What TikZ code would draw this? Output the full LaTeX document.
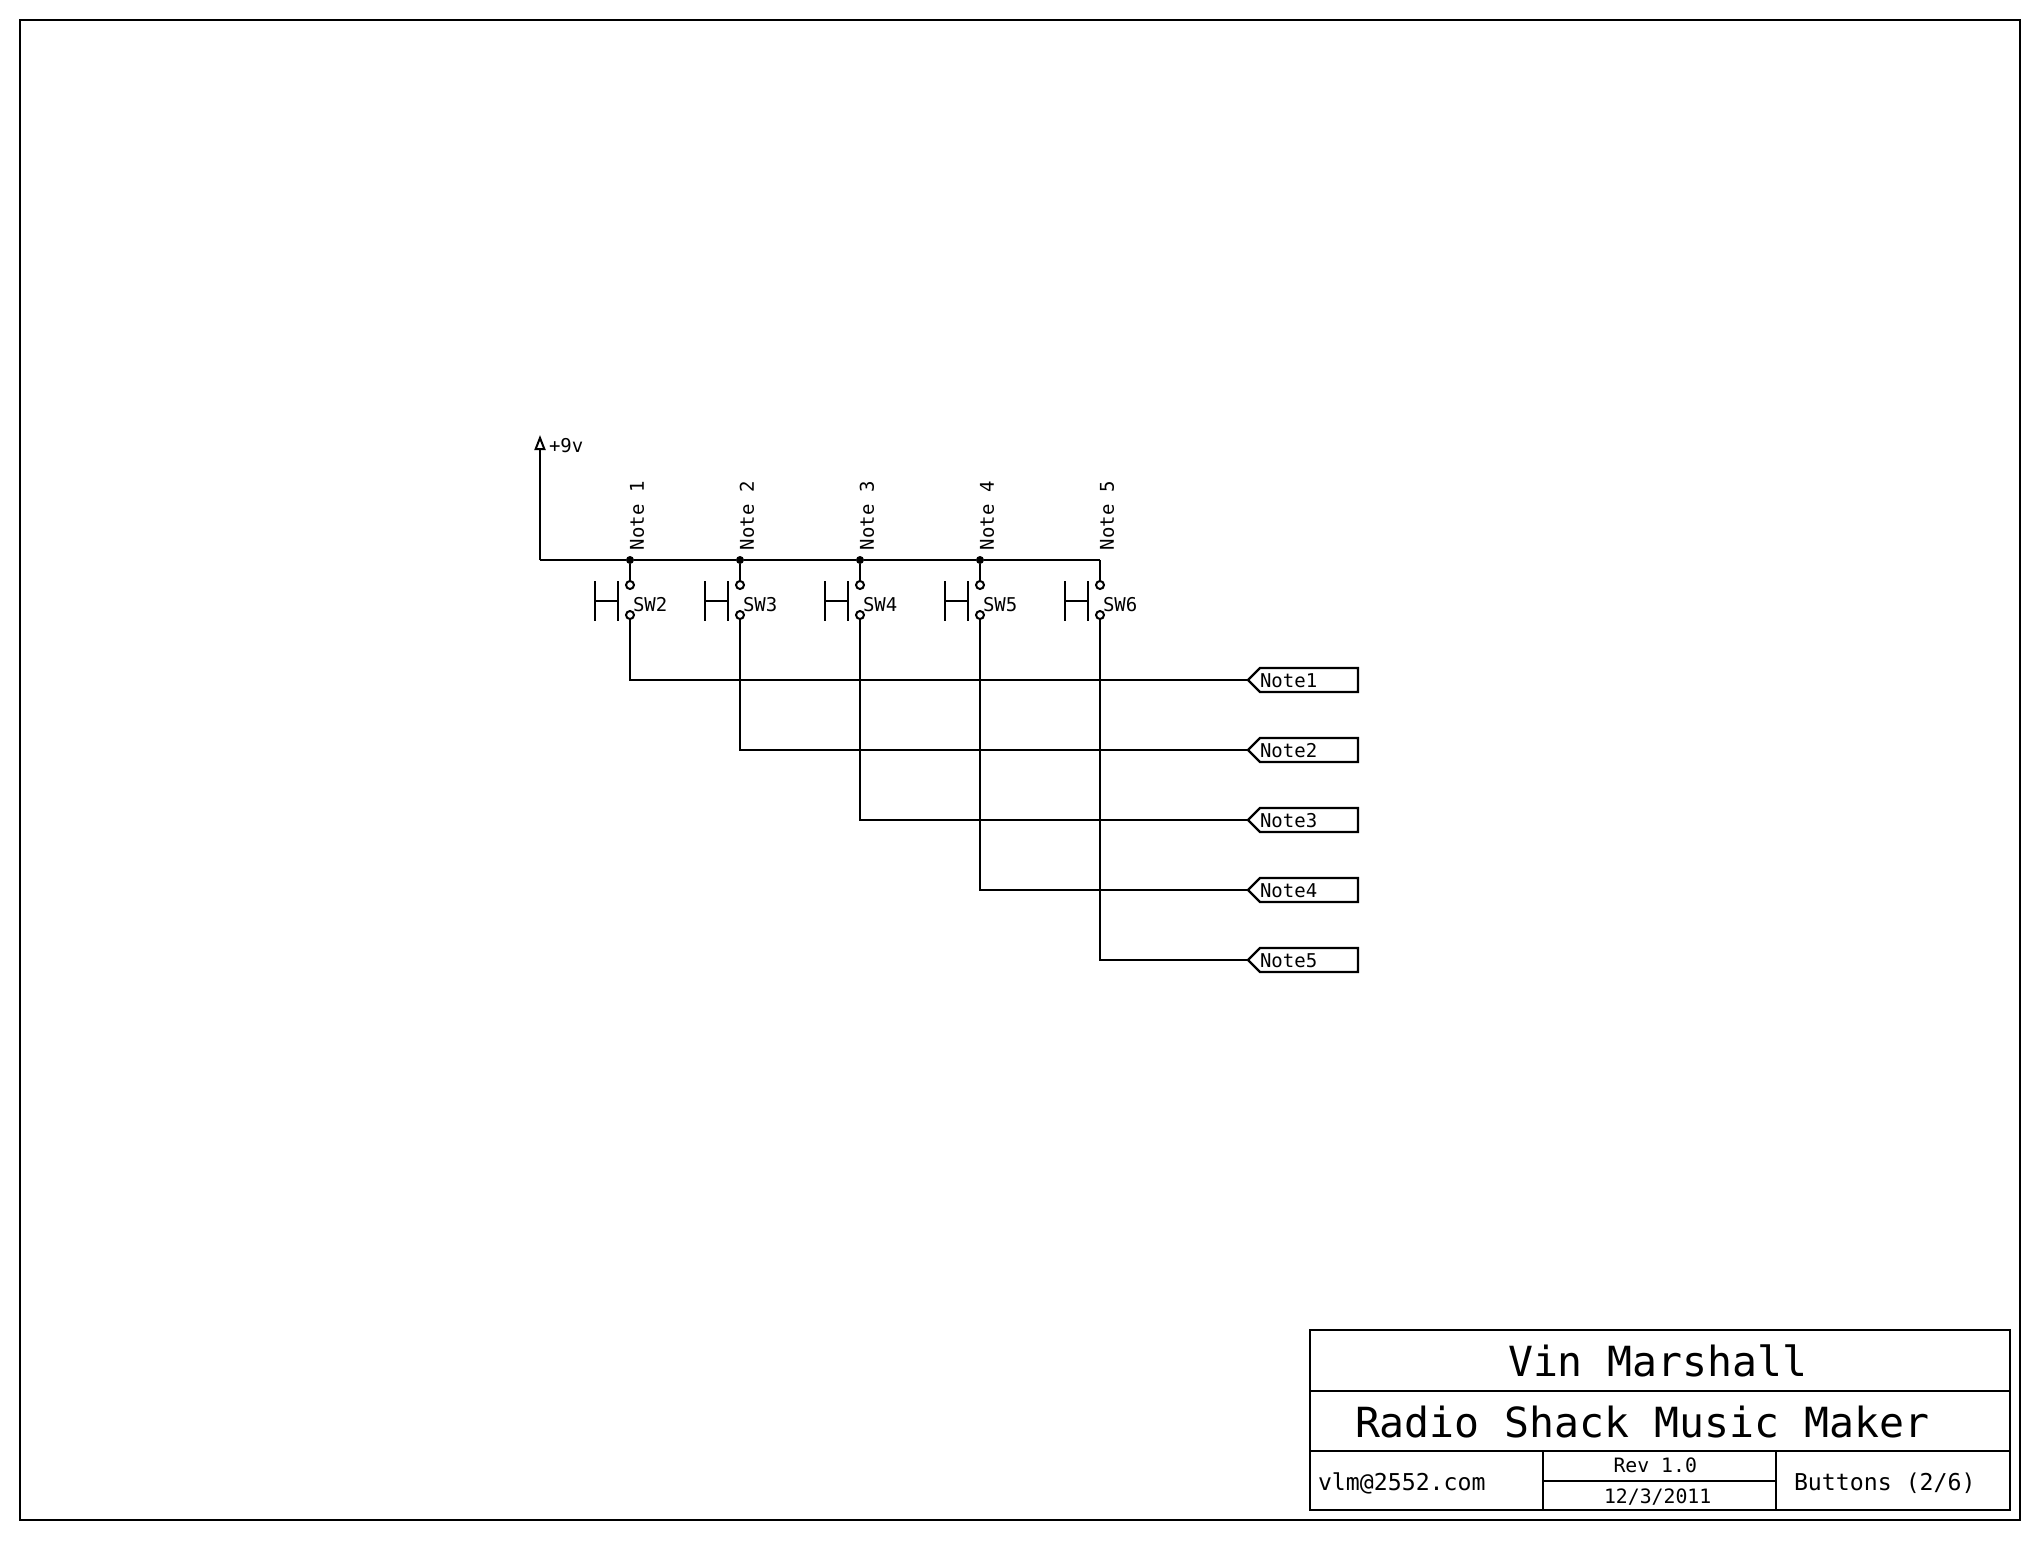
\documentclass[tikz,border=0pt]{standalone}
\usepackage{fontspec}
\setmainfont{DejaVu Sans Mono}
\usetikzlibrary{arrows.meta, shapes.symbols, positioning}

\begin{document}
\begin{tikzpicture}[
  x=1pt, y=-1pt,
  every node/.style={inner sep=0pt, outer sep=0pt},
  wire/.style={line width=2.5pt},
  sheet/.style={line width=2pt},
  junction/.style={circle, fill=black, minimum size=8pt},
  contact/.style={circle, draw, line width=2pt, fill=white, minimum size=8pt},
  netname/.style={font=\fontsize{19}{20}\selectfont},
  swname/.style={netname, anchor=west},
  tag/.style={signal, signal to=west, signal pointer angle=90, draw, line width=2.2pt,
              minimum width=109pt, minimum height=24pt, text width=98pt,
              text height=15pt, text depth=0pt, font=\fontsize{19}{20}\selectfont},
  cell/.style={rectangle, draw, line width=2pt, anchor=north west, text depth=0pt,
               execute at begin node={\spaceskip=0pt\relax}},
  bigcell/.style={cell, minimum width=700pt, minimum height=60.5pt,
                  font=\fontsize{41.5}{44}\selectfont},
  revcell/.style={cell, minimum width=233pt, minimum height=29.5pt,
                  font=\fontsize{19.8}{22}\selectfont},
  sidecell/.style={cell, minimum height=59pt, text height=19pt,
                   font=\fontsize{23.2}{26}\selectfont},
  pushbar/.pic={
    \draw[wire] (-11.5,-20) -- (-11.5,20) (11.5,-20) -- (11.5,20) (-11.5,0) -- (11.5,0);
  },
]
\useasboundingbox (0,0) rectangle (2040,1540);
\draw[sheet] (20,20) rectangle (2020,1520);

% supply rail
\coordinate (vcc) at (540,435);
\coordinate (railstart) at (540,560);
\node[junction] (j1) at (630,560) {};
\node[junction] (j2) at (740,560) {};
\node[junction] (j3) at (860,560) {};
\node[junction] (j4) at (980,560) {};
\coordinate (j5) at (1100,560);
\node[netname, anchor=west] (vcclabel) at (549,446) {+9v};
\draw[wire, -{Triangle[open, length=15pt, width=11pt, line width=2pt]}] (railstart) -- (vcc);
\draw[wire] (railstart) -- (j1) -- (j2) -- (j3) -- (j4) -- (j5);

% labels above the rail
\node[netname, rotate=90, anchor=west] (lab1) at (637,550) {Note 1};
\node[netname, rotate=90, anchor=west] (lab2) at (747,550) {Note 2};
\node[netname, rotate=90, anchor=west] (lab3) at (867,550) {Note 3};
\node[netname, rotate=90, anchor=west] (lab4) at (987,550) {Note 4};
\node[netname, rotate=90, anchor=west] (lab5) at (1107,550) {Note 5};

% switches
\node[contact] (t1) at (630,585) {};
\node[contact] (t2) at (740,585) {};
\node[contact] (t3) at (860,585) {};
\node[contact] (t4) at (980,585) {};
\node[contact] (t5) at (1100,585) {};
\node[contact, below=22pt of t1] (b1) {};
\node[contact, below=22pt of t2] (b2) {};
\node[contact, below=22pt of t3] (b3) {};
\node[contact, below=22pt of t4] (b4) {};
\node[contact, below=22pt of t5] (b5) {};
\pic at (606.5,601) {pushbar};
\pic at (716.5,601) {pushbar};
\pic at (836.5,601) {pushbar};
\pic at (956.5,601) {pushbar};
\pic at (1076.5,601) {pushbar};
\node[swname] (sw2) at (633,605) {SW2};
\node[swname] (sw3) at (743,605) {SW3};
\node[swname] (sw4) at (863,605) {SW4};
\node[swname] (sw5) at (983,605) {SW5};
\node[swname] (sw6) at (1103,605) {SW6};
\draw[wire] (j1) -- (t1);  \draw[wire] (j2) -- (t2);
\draw[wire] (j3) -- (t3);  \draw[wire] (j4) -- (t4);
\draw[wire] (j5) -- (t5);

% off-page tags
\node[tag, anchor=west] (note1) at (1248,680) {Note1};
\node[tag, below=46pt of note1] (note2) {Note2};
\node[tag, below=46pt of note2] (note3) {Note3};
\node[tag, below=46pt of note3] (note4) {Note4};
\node[tag, below=46pt of note4] (note5) {Note5};
\draw[wire] (b1) |- (note1.west);
\draw[wire] (b2) |- (note2.west);
\draw[wire] (b3) |- (note3.west);
\draw[wire] (b4) |- (note4.west);
\draw[wire] (b5) |- (note5.west);

% title block
\node[bigcell, inner xsep=198pt, text width=304pt, text height=33.4pt] (author) at (1310,1330) {Vin Marshall};
\node[bigcell, inner xsep=45pt, text width=610pt, text height=32.5pt, below=0pt of author] (project) {Radio Shack Music Maker};
\node[sidecell, inner xsep=8pt, text width=217pt,
      below=0pt of project.south west, anchor=north west] (email) {vlm@2552.com};
\node[revcell, inner xsep=70.5pt, text width=92pt, text height=14pt,
      right=0pt of email.north east, anchor=north west] (rev) {Rev 1.0};
\node[revcell, inner xsep=61pt, text width=111pt, text height=16pt, below=0pt of rev] (date) {12/3/2011};
\node[sidecell, inner xsep=18pt, text width=198pt,
      right=0pt of rev.north east, anchor=north west] (page) {Buttons (2/6)};
\end{tikzpicture}
\end{document}
